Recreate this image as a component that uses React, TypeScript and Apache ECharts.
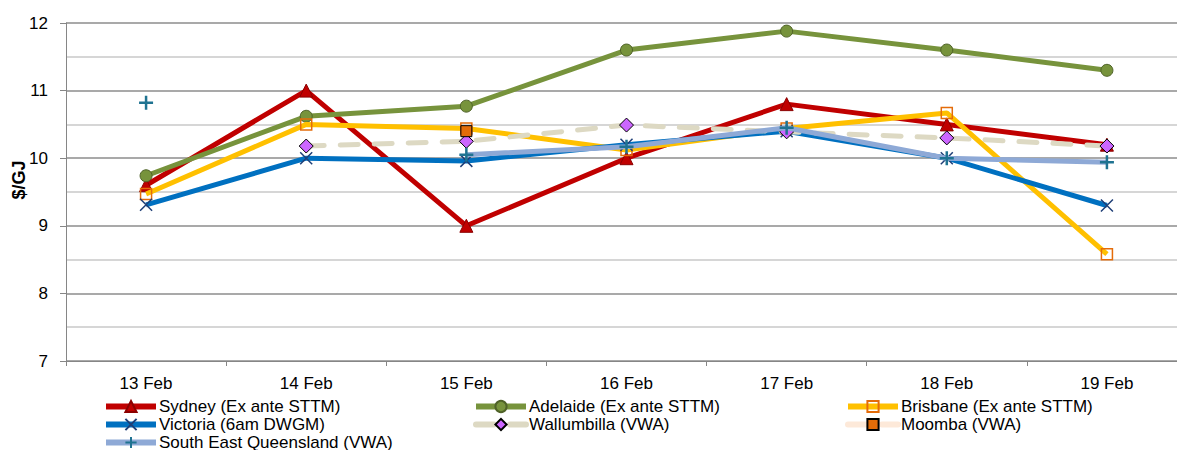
import React, { useEffect, useRef } from "react";
import * as echarts from "echarts";

const categories = ["13 Feb", "14 Feb", "15 Feb", "16 Feb", "17 Feb", "18 Feb", "19 Feb"];
const sydney = [9.6, 11.0, 9.0, 10.0, 10.8, 10.5, 10.2];
const adelaide = [9.74, 10.62, 10.77, 11.6, 11.88, 11.6, 11.3];
const brisbane = [9.47, 10.5, 10.44, 10.12, 10.44, 10.67, 8.58];
const victoria = [9.31, 10.0, 9.96, 10.2, 10.4, 10.0, 9.3];
const wallumbilla = [null, 10.18, 10.25, 10.49, 10.39, 10.3, 10.18];
const moomba = [null, null, 10.4, null, null, null, null];
const seq = [10.82, null, 10.05, 10.17, 10.45, 10.0, 9.94];

const FONT = "Liberation Sans, Arial, sans-serif";
const X_PATH = "path://M0,0L10,10M10,0L0,10";
const PLUS_PATH = "path://M5,0L5,10M0,5L10,5";

export default function App() {
  const ref = useRef<HTMLDivElement>(null);
  useEffect(() => {
    if (!ref.current) return;
    const chart = echarts.init(ref.current, null, { renderer: "svg" });
    const legendBase = {
      orient: "vertical" as const,
      itemWidth: 50,
      itemHeight: 14,
      itemGap: 1,
      height: 80,
      lineStyle: { width: 6 },
      textStyle: { fontFamily: FONT, fontSize: 17, color: "#000", padding: [0, 0, 0, -2] },
      padding: 0,
      top: 398,
    };
    chart.setOption({
      animation: false,
      grid: { left: 66, top: 23, right: 0, height: 338, containLabel: false },
      graphic: [
        {
          type: "text",
          x: 19,
          y: 180,
          rotation: Math.PI / 2,
          style: {
            text: "$/GJ",
            font: "bold 18px " + FONT,
            fill: "#000",
            textAlign: "center",
            textVerticalAlign: "middle",
          },
        },
      ],
      legend: [
        { ...legendBase, left: 103, data: ["Sydney (Ex ante STTM)", "Victoria (6am DWGM)", "South East Queensland (VWA)"] },
        { ...legendBase, left: 473, data: ["Adelaide (Ex ante STTM)", "Wallumbilla (VWA)"] },
        { ...legendBase, left: 845, data: ["Brisbane (Ex ante STTM)", "Moomba (VWA)"] },
      ],
      xAxis: {
        type: "category",
        data: categories,
        boundaryGap: true,
        axisLine: { lineStyle: { color: "#868686", width: 1 } },
        axisTick: { show: true, length: 5, interval: 0, lineStyle: { color: "#868686" } },
        axisLabel: { fontFamily: FONT, fontSize: 17, color: "#000", margin: 14 },
      },
      yAxis: {
        type: "value",
        min: 7,
        max: 12,
        interval: 1,
        axisLine: { show: true, lineStyle: { color: "#868686" } },
        axisTick: { show: true, length: 6, lineStyle: { color: "#868686" } },
        axisLabel: { fontFamily: FONT, fontSize: 17, color: "#000", margin: 18 },
        splitLine: { lineStyle: { color: "#8c8c8c", width: 1.5 } },
        minorTick: { show: false, splitNumber: 2 },
        minorSplitLine: { show: true, lineStyle: { color: "#c8c8c8", width: 1.5 } },
      },
      series: [
        {
          name: "Sydney (Ex ante STTM)",
          type: "line",
          data: sydney,
          symbol: "triangle",
          symbolSize: 13,
          lineStyle: { color: "#C00000", width: 5 },
          itemStyle: { color: "#C00000", borderColor: "#8B0000", borderWidth: 1 },
          z: 2,
        },
        {
          name: "Adelaide (Ex ante STTM)",
          type: "line",
          data: adelaide,
          symbol: "circle",
          symbolSize: 12,
          lineStyle: { color: "#77933C", width: 5 },
          itemStyle: { color: "#77933C", borderColor: "#4F6228", borderWidth: 1 },
          z: 3,
        },
        {
          name: "Brisbane (Ex ante STTM)",
          type: "line",
          data: brisbane,
          symbol: "rect",
          symbolSize: 11,
          lineStyle: { color: "#FFC000", width: 5 },
          itemStyle: { color: "rgba(255,255,255,0)", borderColor: "#E46C0A", borderWidth: 1.5 },
          z: 4,
        },
        {
          name: "Victoria (6am DWGM)",
          type: "line",
          data: victoria,
          symbol: X_PATH,
          symbolSize: 12,
          lineStyle: { color: "#0070C0", width: 5 },
          itemStyle: { color: "#1F3F77", borderColor: "#1F3F77", borderWidth: 1.5 },
          z: 5,
        },
        {
          name: "Wallumbilla (VWA)",
          type: "line",
          data: wallumbilla,
          symbol: "diamond",
          symbolSize: 14,
          lineStyle: { color: "#DDD9C3", width: 5, type: [18, 16], cap: "round" },
          itemStyle: { color: "#CC66FF", borderColor: "#000", borderWidth: 1 },
          z: 6,
        },
        {
          name: "Moomba (VWA)",
          type: "line",
          data: moomba,
          symbol: "rect",
          symbolSize: 11,
          lineStyle: { color: "#FDE9D9", width: 5, type: [18, 16], cap: "round" },
          itemStyle: { color: "#E36C09", borderColor: "#000", borderWidth: 1 },
          z: 7,
        },
        {
          name: "South East Queensland (VWA)",
          type: "line",
          data: seq,
          symbol: PLUS_PATH,
          symbolSize: 14,
          lineStyle: { color: "#8EA9D6", width: 5 },
          itemStyle: { color: "#1F7391", borderColor: "#1F7391", borderWidth: 2.5 },
          z: 8,
        },
      ],
    });
    return () => chart.dispose();
  }, []);
  return (
    <div
      ref={ref}
      style={{ position: "fixed", left: 0, top: 0, width: 1187, height: 450, background: "#fff" }}
    />
  );
}
